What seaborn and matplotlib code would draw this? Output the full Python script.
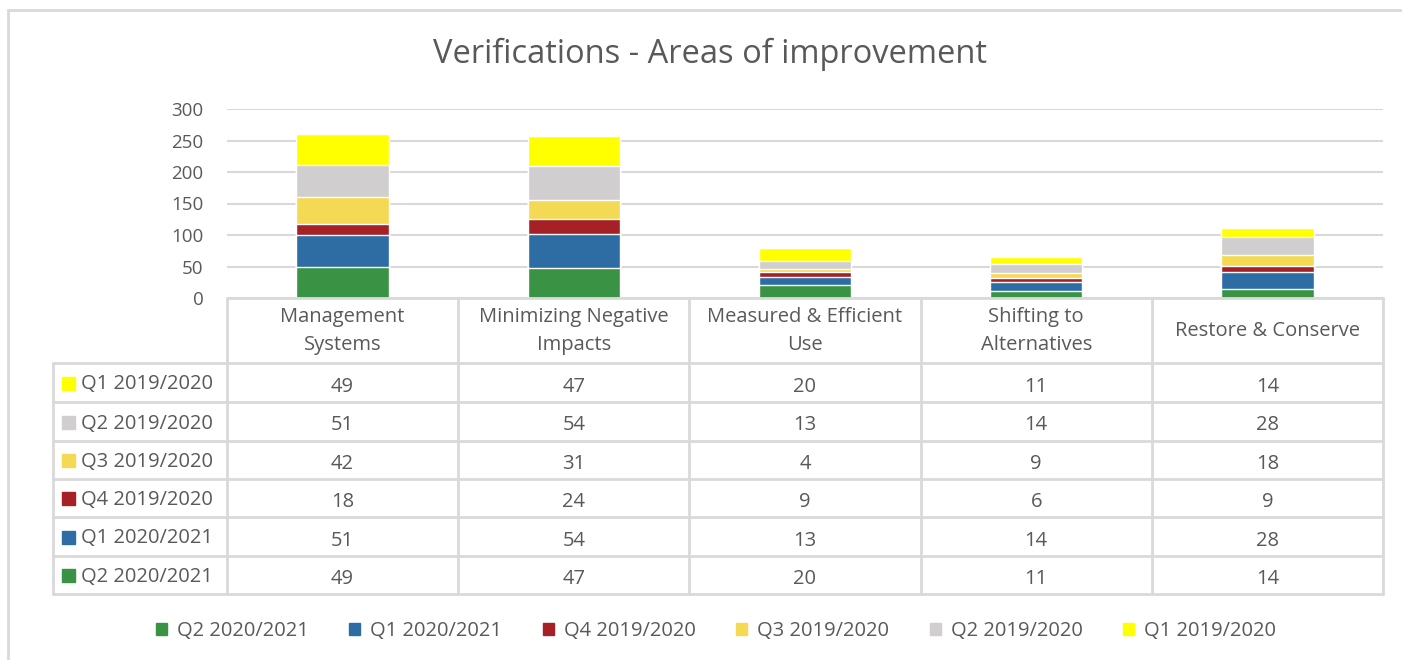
import matplotlib
matplotlib.use("Agg")
from matplotlib import pyplot as plt
from matplotlib.patches import Rectangle, Patch
import pandas as pd
import seaborn as sns

# data (table rows, top to bottom as in the picture)
categories = ['Management\nSystems', 'Minimizing Negative\nImpacts', 'Measured & Efficient\nUse',
              'Shifting to\nAlternatives', 'Restore & Conserve']
series_names = ['Q1 2019/2020', 'Q2 2019/2020', 'Q3 2019/2020', 'Q4 2019/2020', 'Q1 2020/2021', 'Q2 2020/2021']
q1_1920 = [49, 47, 20, 11, 14]
q2_1920 = [51, 54, 13, 14, 28]
q3_1920 = [42, 31, 4, 9, 18]
q4_1920 = [18, 24, 9, 6, 9]
q1_2021 = [51, 54, 13, 14, 28]
q2_2021 = [49, 47, 20, 11, 14]
colors = ['#ffff00', '#d0cece', '#f4d954', '#a52126', '#2e6da4', '#3a9344']

sns.set_style('white')
plt.rcParams['font.family'] = ['Open Sans', 'DejaVu Sans']
txt = '#595959'
grid = '#d9d9d9'
fs = 14.5

df = pd.DataFrame([q1_1920, q2_1920, q3_1920, q4_1920, q1_2021, q2_2021],
                  index=series_names, columns=categories)

W, H = 1402, 660
def box(l, t, r, b):
    return [l / W, 1 - b / H, (r - l) / W, (b - t) / H]

fig = plt.figure(figsize=(W / 100, H / 100), dpi=100)
ax = fig.add_axes(box(227, 109, 1383, 298))
tax = fig.add_axes(box(53, 298, 1383, 594))

# stacked bars: bottom series is the last table row, draw cumulative totals from the top down
stack_order = series_names[::-1]
cum = df.loc[stack_order].cumsum()
for name in stack_order[::-1]:
    sns.barplot(x=categories, y=cum.loc[name].values, color=colors[series_names.index(name)],
                saturation=1, width=0.4, ax=ax, zorder=3)

ax.set_xlim(-0.5, 4.5)
ax.set_ylim(0, 300)
ax.set_yticks(range(0, 301, 50))
ax.yaxis.grid(True, color=grid, lw=1.5, zorder=0)
ax.set_xticks([])
ax.set_xlabel('')
ax.set_ylabel('')
ax.tick_params(axis='y', length=0, pad=17, labelsize=13.5, labelcolor=txt)
for s in ax.spines.values():
    s.set_visible(False)

# data table
colw = 231.2
def xu(px):
    return (px - 227) / colw - 0.5
tax.set_xlim(xu(53), 4.5)
tax.set_ylim(296, 0)
tax.axis('off')
rows_y = [65, 104, 143, 181, 219, 258, 296]
tax.plot([-0.5, 4.5], [0, 0], color=grid, lw=2, clip_on=False)
for y in rows_y:
    tax.plot([xu(53), 4.5], [y, y], color=grid, lw=2, clip_on=False)
tax.plot([xu(53), xu(53)], [65, 296], color=grid, lw=2, clip_on=False)
for i in range(6):
    tax.plot([i - 0.5, i - 0.5], [0, 296], color=grid, lw=2, clip_on=False)

for i, c in enumerate(categories):
    tax.text(i, 33, c, ha='center', va='center', fontsize=fs, color=txt, linespacing=1.5)
for r, name in enumerate(series_names):
    yc = (rows_y[r] + rows_y[r + 1]) / 2 + 2
    tax.add_patch(Rectangle((xu(62), yc - 8), 13 / colw, 13, color=colors[r], clip_on=False))
    tax.text(xu(81), yc, name, ha='left', va='center', fontsize=fs, color=txt)
    for i, v in enumerate(df.loc[name]):
        tax.text(i, yc + 2, str(v), ha='center', va='center', fontsize=fs, color=txt)

fig.text(710 / W, 1 - 54 / H, 'Verifications - Areas of improvement', ha='center', va='center',
         fontsize=23.5, color=txt)

handles = [Patch(color=colors[series_names.index(n)], label=n) for n in stack_order]
fig.legend(handles=handles, ncol=6, loc='center', bbox_to_anchor=(716 / W, 1 - 631 / H),
           frameon=False, handlelength=0.55, handleheight=0.55, handletextpad=0.5,
           columnspacing=2.0, fontsize=fs, labelcolor=txt)

# outer chart border
fig.add_artist(Rectangle((8 / W, -0.2), 1.5, 1.2 - 10 / H, transform=fig.transFigure,
                         fill=False, edgecolor=grid, lw=2))

fig.savefig('out.png', dpi=100)
